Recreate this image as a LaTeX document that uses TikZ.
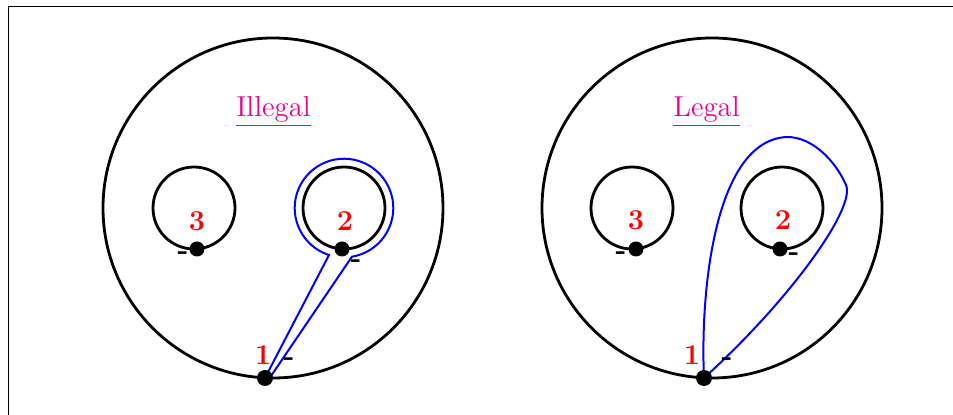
\documentclass[tikz,border=0pt]{standalone}
\usepackage{xcolor}
\definecolor{titlepink}{RGB}{236,0,140}
\begin{document}
\begin{tikzpicture}[x=0.5pt,y=-0.5pt,
  ring/.style={circle,draw,line width=1.4pt,inner sep=0pt},
  dot/.style={circle,fill,inner sep=0pt,minimum size=8pt},
  num/.style={text=red,font=\Large\bfseries,inner sep=0pt},
  sgn/.style={font=\Large\bfseries,inner sep=0pt},
  ttl/.style={text=titlepink,font=\Large,inner sep=0pt,anchor=base},
  bluepath/.style={blue,line width=1pt}]
\useasboundingbox (0,0) rectangle (953,415);
\draw[line width=0.5pt] (8,415) -- (8,7) -- (953,7);
% left figure
\node[ring,minimum size=170pt] (L) at (273,208) {};
\node[ring,minimum size=41pt] (L3) at (194,208) {};
\node[ring,minimum size=41pt] (L2) at (344,208) {};
\node[ttl] (Lt) at (273.5,117) {\underline{Illegal}};
\coordinate (La) at (266,376);
\coordinate (Lb) at (271,376);
\draw[bluepath] (La) -- (329,255) arc[start angle=252.3, end angle=-80.7, radius=24.65pt] -- (Lb);
\node[dot] (LD1) at (265,378) {};
\node[dot,minimum size=7.5pt] (LD3) at (197,249) {};
\node[dot,minimum size=7.5pt] (LD2) at (342,249) {};
\node[num] (Ln3) at (197,221) {3};
\node[num] (Ln2) at (345,221) {2};
\node[num] (Ln1) at (263,355) {1};
\node[sgn] (Ls3) at (183,256) {-};
\node[sgn] (Ls2) at (356,264) {-};
\node[sgn] (Ls1) at (289,362) {-};
% right figure
\node[ring,minimum size=170pt] (R) at (712,208) {};
\node[ring,minimum size=41pt] (R3) at (632,208) {};
\node[ring,minimum size=41pt] (R2) at (782,208) {};
\node[ttl] (Rt) at (706.5,117) {\underline{Legal}};
\coordinate (Rs) at (704,378);
\draw[bluepath] (Rs) .. controls (700,290) and (715,140) .. (787,137)
  .. controls (812,137) and (835,160) .. (846,185)
  .. controls (856,208) and (790,300) .. (Rs);
\node[dot] (RD1) at (704,378) {};
\node[dot,minimum size=7.5pt] (RD3) at (636,249) {};
\node[dot,minimum size=7.5pt] (RD2) at (780,249) {};
\node[num] (Rn3) at (636,220) {3};
\node[num] (Rn2) at (783,220) {2};
\node[num] (Rn1) at (692,355) {1};
\node[sgn] (Rs3) at (621,256) {-};
\node[sgn] (Rs2) at (794,257) {-};
\node[sgn] (Rs1) at (727,362) {-};
\end{tikzpicture}
\end{document}
